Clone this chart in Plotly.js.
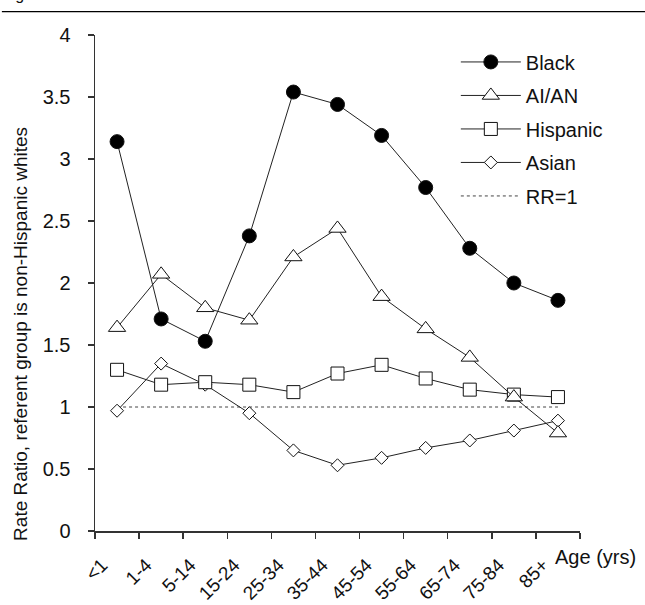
<!DOCTYPE html>
<html>
<head>
<meta charset="utf-8">
<script src="https://cdn.plot.ly/plotly-3.0.1.min.js"></script>
<style>html,body{margin:0;padding:0;background:#fff;}#chart{width:645px;height:605px;}</style>
</head>
<body>
<div id="chart"></div>
<script>
var ageGroups = ["<1","1-4","5-14","15-24","25-34","35-44","45-54","55-64","65-74","75-84","85+"];
var black    = [3.14, 1.71, 1.53, 2.38, 3.54, 3.44, 3.19, 2.77, 2.28, 2.00, 1.86];
var aian     = [1.64, 2.07, 1.80, 1.70, 2.21, 2.44, 1.89, 1.63, 1.40, 1.08, 0.79];
var hispanic = [1.30, 1.18, 1.20, 1.18, 1.12, 1.27, 1.34, 1.23, 1.14, 1.10, 1.08];
var asian    = [0.97, 1.35, 1.18, 0.95, 0.65, 0.53, 0.59, 0.67, 0.73, 0.81, 0.89];
var reference = [1, 1, 1, 1, 1, 1, 1, 1, 1, 1, 1];

var FONT = "Liberation Sans, Arial, sans-serif";
var lineStyle = {color: "#222", width: 1};

function series(name, y, symbol, size, fill, rank) {
  return {
    type: "scatter", mode: "lines+markers", name: name, x: ageGroups, y: y,
    legendgroup: "g" + rank, legendrank: rank,
    line: lineStyle,
    marker: {symbol: symbol, size: size, color: fill, line: {color: "#111", width: 1}},
    cliponaxis: false
  };
}

var traces = [
  {type: "scatter", mode: "lines", name: "RR=1", x: ageGroups, y: reference,
   legendgroup: "g5", legendrank: 5,
   line: {color: "#444", width: 1, dash: "dot"}},
  series("Asian", asian, "diamond", 10, "#fff", 4),
  series("Hispanic", hispanic, "square", 13, "#fff", 3),
  series("AI/AN", aian, "triangle-up", 15, "#fff", 2),
  series("Black", black, "circle", 14, "#000", 1)
];

var layout = {
  width: 645, height: 605,
  margin: {l: 95, r: 65, t: 35, b: 74},
  paper_bgcolor: "#fff", plot_bgcolor: "#fff",
  font: {family: FONT, color: "#111", size: 19},
  showlegend: true,
  legend: {
    x: 0.744, y: 0.985, xanchor: "left", yanchor: "top",
    traceorder: "grouped", tracegroupgap: 4.5, itemwidth: 60,
    font: {family: FONT, size: 20, color: "#111"},
    bgcolor: "rgba(0,0,0,0)"
  },
  xaxis: {
    type: "category", range: [-0.5, 10.5], tickson: "boundaries",
    showline: true, linecolor: "#333", linewidth: 1.5,
    ticks: "outside", ticklen: 6, tickcolor: "#333", tickwidth: 1.5,
    showgrid: false, zeroline: false, tickangle: -45,
    ticklabelstandoff: 14, ticklabelshift: -15,
    tickfont: {family: FONT, size: 19, color: "#111"}
  },
  yaxis: {
    range: [0, 4], dtick: 0.5, tick0: 0,
    showline: true, linecolor: "#333", linewidth: 1.5,
    ticks: "outside", ticklen: 6, tickcolor: "#333", tickwidth: 1.5,
    showgrid: false, zeroline: false, ticklabelstandoff: 13,
    tickfont: {family: FONT, size: 20, color: "#111"}
  },
  annotations: [
    {text: "Rate Ratio, referent group is non-Hispanic whites", textangle: -90,
     xref: "paper", yref: "paper", x: -0.155, y: 0.397, xanchor: "center", yanchor: "middle",
     showarrow: false, font: {family: FONT, size: 19, color: "#111"}},
    {text: "Age (yrs)", xref: "paper", yref: "paper", x: 0.944, y: -0.052,
     xanchor: "left", yanchor: "middle", showarrow: false,
     font: {family: FONT, size: 20, color: "#111"}},
    {text: "Figure", xref: "paper", yref: "paper", x: -0.196, y: 1.0595,
     xanchor: "left", yanchor: "bottom", showarrow: false,
     font: {family: FONT, size: 16, color: "#111"}}
  ],
  shapes: [
    {type: "line", xref: "paper", yref: "paper", x0: -0.192, x1: 1.134, y0: 1.047, y1: 1.047,
     line: {color: "#000", width: 1.2}}
  ]
};

Plotly.newPlot("chart", traces, layout, {displayModeBar: false, staticPlot: true});
</script>
</body>
</html>
